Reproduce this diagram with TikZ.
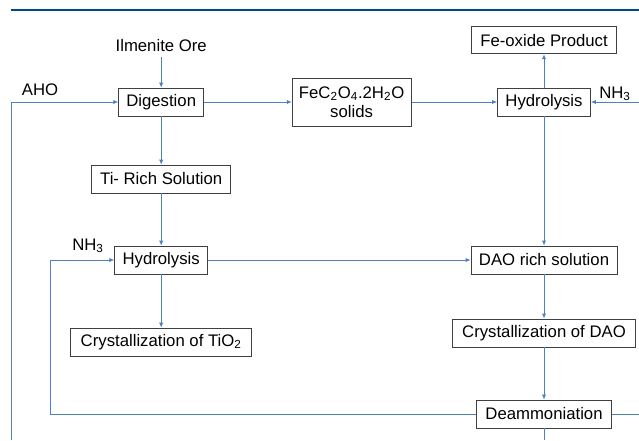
\documentclass[tikz,border=0pt]{standalone}
\usepackage{fontspec}
\setmainfont{Liberation Sans}
\usetikzlibrary{arrows.meta}
\definecolor{flowblue}{RGB}{79,129,189}
\definecolor{rulecol}{RGB}{0,75,135}

\begin{document}
\begin{tikzpicture}[
		font=\fontsize{11.9}{13.5}\selectfont,
		box/.style={draw=black!75, line width=0.6pt, minimum height=0.7cm, inner sep=2pt},
		flow/.style={draw=flowblue, line width=0.5pt, -{Latex[length=3.5pt,width=3pt]}},
		link/.style={draw=flowblue, line width=0.5pt}
	]
	\useasboundingbox (0,0) rectangle (15.975,11);
	
	% Top rule
	\draw[rulecol, line width=2pt] (0.275,10.75) -- (15.975,10.75);
	
	% Left column
	\node (ilm) at (4.03,9.85) {Ilmenite Ore};
	\node[box, minimum width=2.125cm] (dig) at (4.03,8.45) {Digestion};
	\node[box, minimum width=3.475cm] (tir) at (4.03,6.525) {Ti- Rich Solution};
	\node[box, minimum width=2.325cm] (hyl) at (4.03,4.5) {Hydrolysis};
	\node[box, minimum width=4.525cm] (cti) at (4.03,2.45) {Crystallization of TiO\textsubscript{2}};
	
	% Middle and right column
	\node[box, minimum width=2.975cm, minimum height=1.2cm, align=center] (fec) at (8.79,8.45) {FeC\textsubscript{2}O\textsubscript{4}.2H\textsubscript{2}O\\solids};
	\node[box, minimum width=3.625cm, minimum height=0.675cm] (feo) at (13.6,9.99) {Fe-oxide Product};
	\node[box, minimum width=2.325cm] (hyr) at (13.6,8.45) {Hydrolysis};
	\node[box, minimum width=3.65cm] (dao) at (13.6,4.5) {DAO rich solution};
	\node[box, minimum width=4.575cm] (cda) at (13.6,2.675) {Crystallization of DAO};
	\node[box, minimum width=3.375cm] (dea) at (13.6,0.65) {Deammoniation};
	
	% Feed labels
	\node (aho) at (1.0,8.75) {AHO};
	\node (nhr) at (15.375,8.65) {NH\textsubscript{3}};
	\node (nhl) at (2.2,4.85) {NH\textsubscript{3}};
	
	% Free ends
	\coordinate (ahoin) at (0.275,8.45);
	\coordinate (lbot) at (0.275,0);
	\coordinate (nhin) at (15.975,8.45);
	\coordinate (dout) at (15.975,0.65);
	\coordinate (dbot) at (13.6,0);
	\coordinate (loop) at (1.25,0.65);
	
	% Connectors
	\draw[flow] (ilm) -- (dig);
	\draw[flow] (ahoin) -- (dig);
	\draw[link] (ahoin) -- (lbot);
	\draw[flow] (dig) -- (fec);
	\draw[flow] (fec) -- (hyr);
	\draw[flow] (hyr) -- (feo);
	\draw[flow] (nhin) -- (hyr);
	\draw[flow] (dig) -- (tir);
	\draw[flow] (tir) -- (hyl);
	\draw[flow] (hyl) -- (cti);
	\draw[flow] (hyl) -- (dao);
	\draw[flow] (hyr) -- (dao);
	\draw[flow] (dao) -- (cda);
	\draw[flow] (cda) -- (dea);
	\draw[link] (dea) -- (dout);
	\draw[link] (dea) -- (dbot);
	\draw[flow] (dea) -- (loop) |- (hyl);
\end{tikzpicture}
\end{document}
